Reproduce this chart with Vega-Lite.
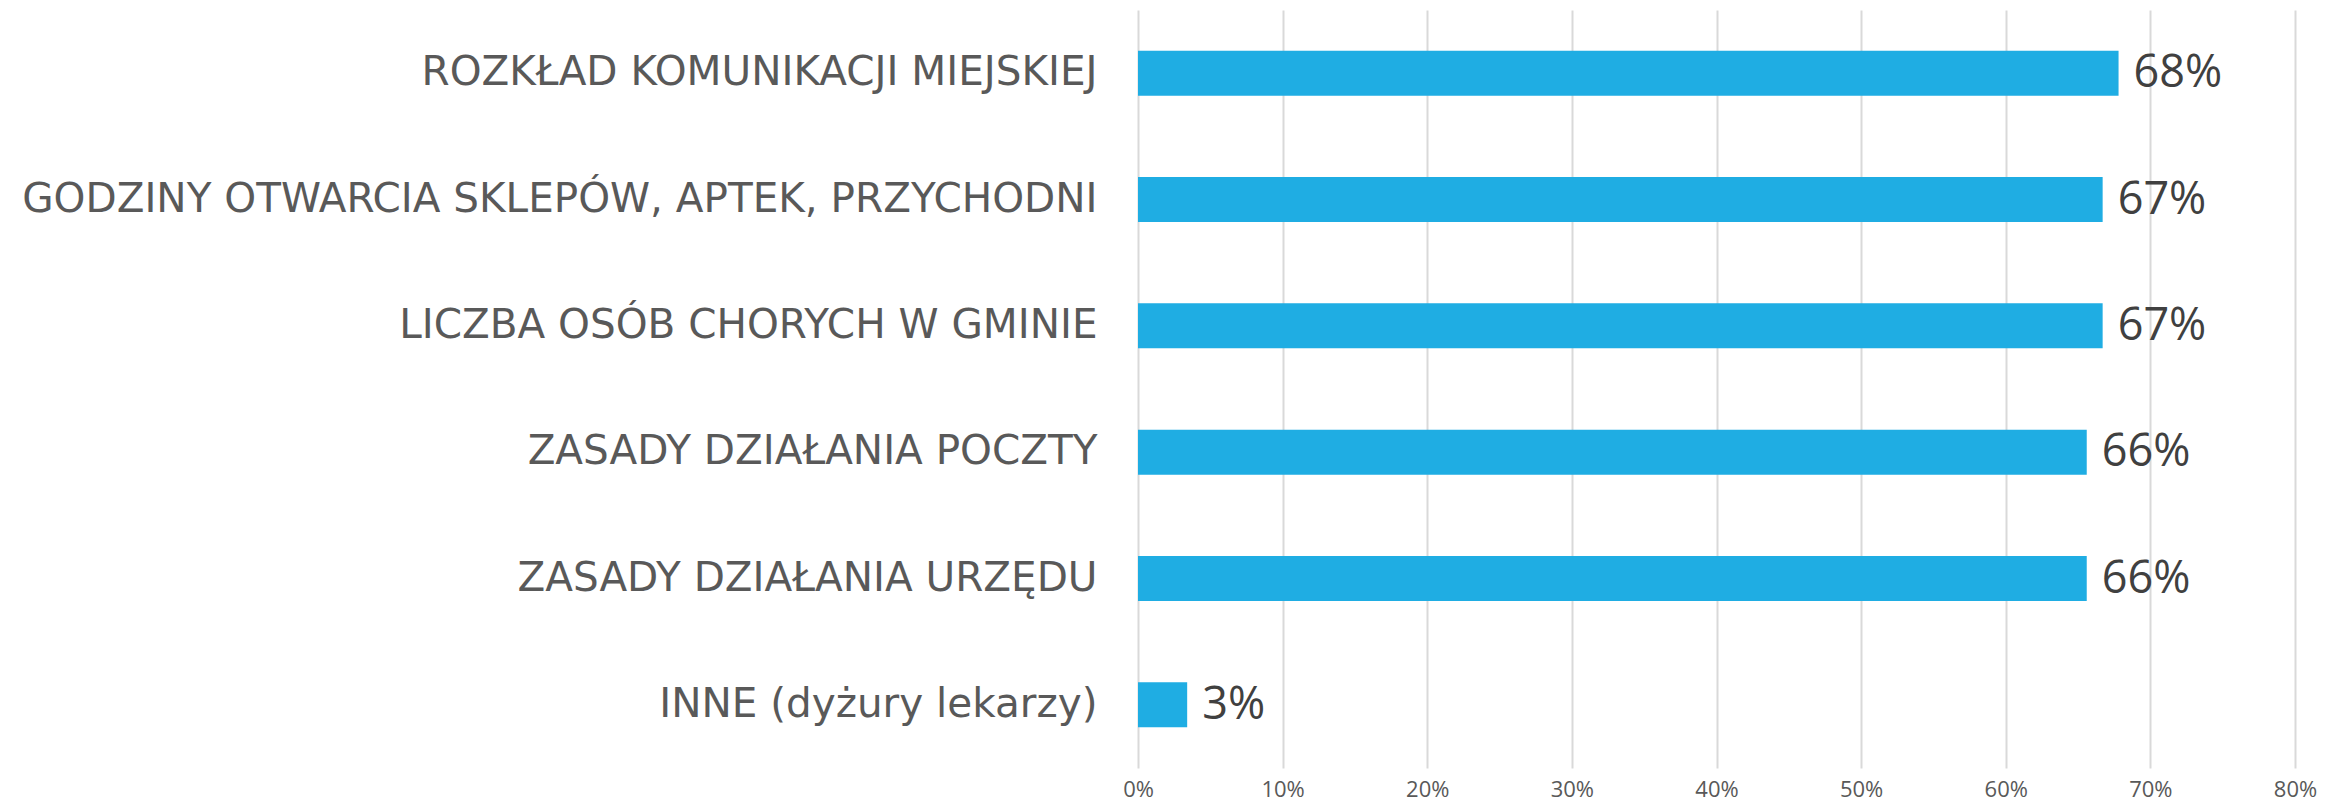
{
  "$schema": "https://vega.github.io/schema/vega-lite/v6.json",
  "width": 1157,
  "height": 758,
  "autosize": {"type": "none"},
  "padding": {"left": 1138, "top": 10, "right": 46, "bottom": 37},
  "background": "white",
  "config": {"view": {"stroke": null}, "font": "Open Sans"},
  "data": {
    "values": [
      {"category": "ROZKŁAD KOMUNIKACJI MIEJSKIEJ", "value": 0.678},
      {"category": "GODZINY OTWARCIA SKLEPÓW, APTEK, PRZYCHODNI", "value": 0.667},
      {"category": "LICZBA OSÓB CHORYCH W GMINIE", "value": 0.667},
      {"category": "ZASADY DZIAŁANIA POCZTY", "value": 0.656},
      {"category": "ZASADY DZIAŁANIA URZĘDU", "value": 0.656},
      {"category": "INNE (dyżury lekarzy)", "value": 0.034}
    ]
  },
  "encoding": {
    "y": {
      "field": "category",
      "type": "nominal",
      "sort": null,
      "scale": {"paddingInner": 0.644, "paddingOuter": 0.322},
      "axis": {
        "title": null,
        "domain": false,
        "ticks": false,
        "labelFontSize": 40.5,
        "labelColor": "#595959",
        "labelPadding": 41,
        "labelLimit": 1200,
        "labelFont": "DejaVu Sans"
      }
    },
    "x": {
      "field": "value",
      "type": "quantitative",
      "scale": {"domain": [0, 0.8], "nice": false},
      "axis": {
        "title": null,
        "format": ".0%",
        "values": [0, 0.1, 0.2, 0.3, 0.4, 0.5, 0.6, 0.7, 0.8],
        "domain": false,
        "ticks": false,
        "grid": true,
        "gridColor": "#d9d9d9",
        "gridWidth": 2,
        "labelFontSize": 22,
        "labelColor": "#595959",
        "labelPadding": 11,
        "labelFlush": false,
        "labelFont": "Open Sans"
      }
    }
  },
  "layer": [
    {"mark": {"type": "bar", "color": "#1FADE3"}},
    {
      "mark": {"type": "text", "align": "left", "baseline": "middle", "dx": 15, "fontSize": 45, "color": "#404040", "font": "Open Sans"},
      "encoding": {"text": {"field": "value", "type": "quantitative", "format": ".0%"}}
    }
  ]
}
